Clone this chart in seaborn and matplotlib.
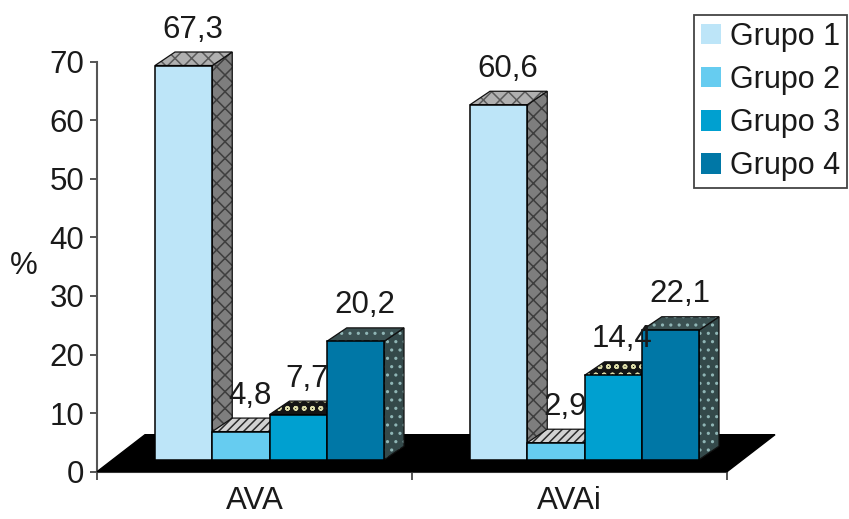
import matplotlib
matplotlib.use("Agg")
import matplotlib.pyplot as plt
import matplotlib.transforms as mtransforms
from matplotlib.patches import Polygon, Patch
import numpy as np
import pandas as pd
import seaborn as sns

# ---- data -------------------------------------------------------------
medidas = ["AVA", "AVAi"]
grupos = ["Grupo 1", "Grupo 2", "Grupo 3", "Grupo 4"]
pct_ava = [67.3, 4.8, 7.7, 20.2]
pct_avai = [60.6, 2.9, 14.4, 22.1]
y_ticks = [0, 10, 20, 30, 40, 50, 60, 70]

# ---- styling ----------------------------------------------------------
front_colors = ["#bde5f8", "#66ccf0", "#00a0d0", "#0077a6"]
# (fill, texture colour, texture) for the side and top faces of each group
side_styles = [
    ("#7e7e7e", "#3e3e3e", "xx"),
    ("#d2d2d2", "#2a2a2a", "////"),
    ("#151515", "#d9d9a6", "oo"),
    ("#34494a", "#8fb5b5", ".."),
]
top_styles = [
    ("#b0b0b0", "#5a5a5a", "xx"),
    ("#d2d2d2", "#2a2a2a", "////"),
    ("#151515", "#d9d9a6", "oo"),
    ("#3b5152", "#8fb5b5", ".."),
]
bar_shift_px = (15, 12)     # front faces sit a little into the floor
bar_depth_px = (20, 13.5)   # depth of each 3-D bar
floor_depth_px = (48, 37)   # depth of the black floor

df = pd.DataFrame({
    "medida": np.repeat(medidas, len(grupos)),
    "grupo": grupos * len(medidas),
    "pct": pct_ava + pct_avai,
})

sns.set_theme(style="white")
plt.rcParams["font.family"] = ["Liberation Sans", "DejaVu Sans"]
plt.rcParams["hatch.linewidth"] = 1.1
text_color = "#1a1a1a"
axis_color = "#555555"

fig = plt.figure(figsize=(8.49, 5.19), dpi=100)
ax = fig.add_axes([97 / 849, 47.3 / 519, 630 / 849, 410 / 519])

sns.barplot(
    data=df, x="medida", y="pct", hue="grupo", hue_order=grupos,
    palette=front_colors, saturation=1, width=0.727, gap=0,
    edgecolor="black", linewidth=1.1, legend=False, ax=ax,
)
ax.set_xlim(-0.5, 1.5)
ax.set_ylim(0, 70)

# pixel -> data conversion for the pseudo 3-D geometry
p0 = ax.transData.transform((0, 0))
p1 = ax.transData.transform((1, 10))
px_x = p1[0] - p0[0]
px_y = (p1[1] - p0[1]) / 10.0

shifted = mtransforms.offset_copy(ax.transData, fig=fig,
                                  x=bar_shift_px[0], y=bar_shift_px[1],
                                  units="dots")
ddx = bar_depth_px[0] / px_x
ddy = bar_depth_px[1] / px_y

# floor
fx = floor_depth_px[0] / px_x
fy = floor_depth_px[1] / px_y
x_lo, x_hi = ax.get_xlim()
ax.add_patch(Polygon([(x_lo, 0), (x_hi, 0), (x_hi + fx, fy), (x_lo + fx, fy)],
                     closed=True, facecolor="black", edgecolor="black",
                     lw=1, clip_on=False, zorder=3))


def face(pts, style, z):
    fill, tex_color, tex = style
    ax.add_patch(Polygon(pts, closed=True, facecolor=fill, edgecolor=tex_color,
                         hatch=tex, lw=0, transform=shifted, clip_on=False,
                         zorder=z))
    ax.add_patch(Polygon(pts, closed=True, fill=False, edgecolor="#111111",
                         lw=0.9, transform=shifted, clip_on=False, zorder=z))


bars = sorted([b for c in ax.containers for b in c], key=lambda b: b.get_x())
for rank, bar in enumerate(bars):
    g = rank % len(grupos)
    x0, w, h = bar.get_x(), bar.get_width(), bar.get_height()
    z = 5 + 3 * rank
    face([(x0 + w, 0), (x0 + w + ddx, ddy), (x0 + w + ddx, h + ddy), (x0 + w, h)],
         side_styles[g], z)
    face([(x0, h), (x0 + w, h), (x0 + w + ddx, h + ddy), (x0 + ddx, h + ddy)],
         top_styles[g], z + 1)
    bar.set_transform(shifted)
    bar.set_clip_on(False)
    bar.set_zorder(z + 2)
    ax.annotate(f"{h:.1f}".replace(".", ","), xy=(x0 + w / 2, h),
                xycoords=shifted, xytext=(9, 28), textcoords="offset pixels",
                ha="center", va="baseline", fontsize=22.5, color=text_color,
                zorder=200, annotation_clip=False)

# axes styling
sns.despine(ax=ax, top=True, right=True)
for side in ("left", "bottom"):
    ax.spines[side].set_color(axis_color)
    ax.spines[side].set_linewidth(1.5)
ax.set_yticks(y_ticks)
ax.tick_params(axis="y", left=True, direction="out", length=5, width=1.4,
               color=axis_color, pad=4, labelsize=22.5, labelcolor=text_color)
ax.set_xticks([-0.5, 0.5, 1.5], minor=True)
ax.tick_params(axis="x", which="minor", bottom=True, direction="out",
               length=6, width=1.4, color=axis_color)
ax.tick_params(axis="x", which="major", bottom=False, length=0, pad=10,
               labelsize=22.5, labelcolor=text_color)
ax.set_xlabel("")
ax.set_ylabel("")
fig.text(24 / 849, 1 - 266 / 519, "%", ha="center", va="center",
         fontsize=22.5, color=text_color)

handles = [Patch(facecolor=c, edgecolor="none") for c in front_colors]
leg = ax.legend(handles, grupos, loc="upper right",
                bbox_to_anchor=(847 / 849, 1 - 15 / 519),
                bbox_transform=fig.transFigure, fontsize=22, frameon=True,
                fancybox=False, framealpha=1, edgecolor="#444444",
                handlelength=0.66, handleheight=0.66, handletextpad=0.3,
                labelspacing=0.43, borderpad=0.22, borderaxespad=0)
leg.get_frame().set_linewidth(1.3)
for t in leg.get_texts():
    t.set_color(text_color)

fig.savefig("out.png", dpi=100, facecolor="white")
